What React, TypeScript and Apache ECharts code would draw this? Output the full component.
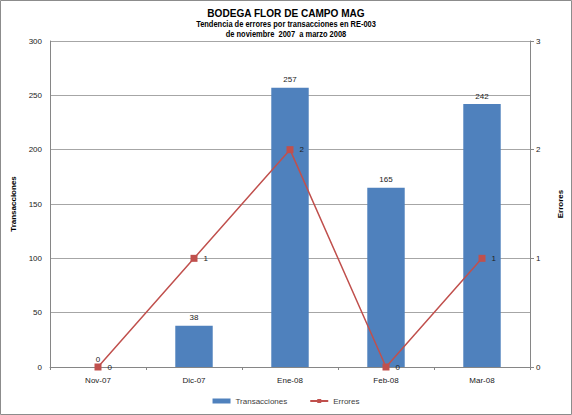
import React, { useEffect, useRef } from "react";
import * as echarts from "echarts";

const categories = ["Nov-07", "Dic-07", "Ene-08", "Feb-08", "Mar-08"];
const transacciones = [0, 38, 257, 165, 242];
const errores = [0, 1, 2, 0, 1];
const leftTicks = { min: 0, max: 300, interval: 50 };
const rightTicks = { min: 0, max: 3, interval: 1 };

const FONT = "Liberation Sans";

export default function App() {
  const ref = useRef<HTMLDivElement>(null);
  useEffect(() => {
    document.body.style.margin = "0";
    const chart = echarts.init(ref.current!, null, { renderer: "svg" });
    chart.setOption({
      animation: false,
      textStyle: { fontFamily: FONT },
      graphic: [
        {
          type: "rect",
          shape: { x: 0.5, y: 0.5, width: 571, height: 414 },
          style: { fill: "none", stroke: "#8c8c8c", lineWidth: 1 },
          silent: true,
        },
        {
          type: "text",
          x: 286,
          y: 13,
          scaleX: 0.96,
          style: {
            text: "BODEGA FLOR DE CAMPO MAG",
            font: "bold 10.5px " + FONT,
            fill: "#000",
            align: "center",
            verticalAlign: "middle",
          },
        },
        {
          type: "text",
          x: 286,
          y: 24.5,
          scaleX: 0.88,
          style: {
            text: "Tendencia de errores por transacciones en RE-003",
            font: "bold 8.5px " + FONT,
            fill: "#000",
            align: "center",
            verticalAlign: "middle",
          },
        },
        {
          type: "text",
          x: 286,
          y: 34.5,
          scaleX: 0.88,
          style: {
            text: "de noviembre  2007  a marzo 2008",
            font: "bold 8.5px " + FONT,
            fill: "#000",
            align: "center",
            verticalAlign: "middle",
          },
        },
      ],
      legend: {
        bottom: 5,
        left: "center",
        itemWidth: 18,
        itemHeight: 5,
        itemGap: 22,
        textStyle: { fontSize: 8, color: "#404040", fontFamily: FONT },
        data: [
          { name: "Transacciones", icon: "rect" },
          { name: "Errores" },
        ],
      },
      grid: { left: 50, right: 42, top: 41, bottom: 48 },
      xAxis: {
        type: "category",
        data: categories,
        axisLine: { lineStyle: { color: "#868686" } },
        axisTick: { show: true, length: 3, lineStyle: { color: "#868686" } },
        axisLabel: { fontSize: 8, color: "#222", margin: 9 },
      },
      yAxis: [
        {
          type: "value",
          ...leftTicks,
          name: "Transacciones",
          nameLocation: "middle",
          nameGap: 32,
          nameTextStyle: { fontSize: 8, fontWeight: "bold", color: "#000" },
          axisLine: { show: true, lineStyle: { color: "#868686" } },
          axisTick: { show: false },
          splitLine: { lineStyle: { color: "#a6a6a6" } },
          axisLabel: { fontSize: 8, color: "#222", margin: 8 },
        },
        {
          type: "value",
          ...rightTicks,
          name: "Errores",
          nameLocation: "middle",
          nameGap: 26,
          nameTextStyle: { fontSize: 8, fontWeight: "bold", color: "#000" },
          position: "right",
          axisLine: { show: true, lineStyle: { color: "#868686" } },
          axisTick: { show: true, length: 4, lineStyle: { color: "#868686" } },
          splitLine: { show: false },
          axisLabel: { fontSize: 8, color: "#222", margin: 6 },
        },
      ],
      series: [
        {
          name: "Transacciones",
          type: "bar",
          data: transacciones,
          barWidth: "39%",
          itemStyle: { color: "#4F81BD", borderWidth: 0 },
          label: { show: true, position: "top", fontSize: 8, color: "#222", distance: 4 },
        },
        {
          name: "Errores",
          type: "line",
          yAxisIndex: 1,
          data: errores,
          symbol: "rect",
          symbolSize: 7,
          itemStyle: { color: "#C0504D" },
          lineStyle: { color: "#C0504D", width: 1.5 },
          label: { show: true, position: "right", fontSize: 8, color: "#222", distance: 6 },
        },
      ],
    });
    return () => chart.dispose();
  }, []);
  return <div ref={ref} style={{ width: 572, height: 415 }} />;
}
